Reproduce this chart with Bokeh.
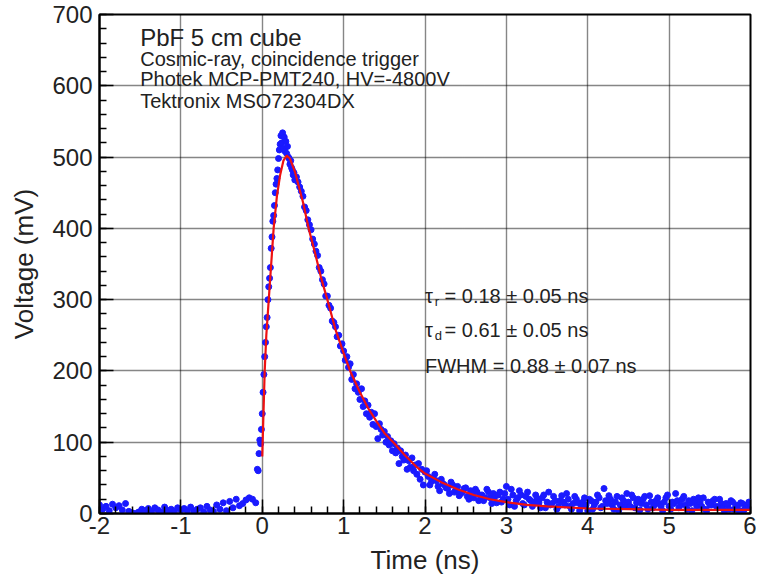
from bokeh.plotting import figure
from bokeh.models import SingleIntervalTicker, Label, PrintfTickFormatter
from bokeh.embed import file_html
from bokeh.resources import INLINE

# ---- data ----
base_t = [-2.00, -1.96, -1.92, -1.88, -1.84, -1.80, -1.76, -1.72, -1.68, -1.64, -1.60, -1.56,
          -1.52, -1.48, -1.44, -1.40, -1.36, -1.32, -1.28, -1.24, -1.20, -1.16, -1.12, -1.08,
          -1.04, -1.00, -0.96, -0.92, -0.88, -0.84, -0.80, -0.76, -0.72, -0.68, -0.64, -0.60,
          -0.56, -0.52, -0.48, -0.44, -0.40, -0.36, -0.32, -0.28, -0.24, -0.20, -0.16, -0.12, -0.08]
base_v = [12, 6, 10, 4, 13, 8, 11, 5, 14, 3, 1, 0,
          2, 6, 4, 7, 3, 8, 5, 2, 9, 4, 6, 3,
          8, 5, 7, 4, 9, 3, 6, 8, 2, 10, 5, 3,
          12, 6, 15, 4, 17, 8, 20, 11, 14, 19, 22, 20, 15]

rise_t = [-0.06, -0.05, -0.04, -0.03, -0.02, -0.01, 0.00, 0.01, 0.02, 0.03, 0.04, 0.05,
          0.06, 0.07, 0.08, 0.09, 0.10, 0.11, 0.12, 0.13, 0.14, 0.15, 0.16, 0.17, 0.18,
          0.19, 0.20, 0.21, 0.22, 0.23, 0.24, 0.25, 0.26, 0.27, 0.28, 0.29, 0.30, 0.31,
          0.32, 0.33, 0.34, 0.35, 0.36, 0.37, 0.38, 0.39, 0.40]
rise_v = [62, 60, 84, 103, 98, 118, 140, 170, 195, 220, 240, 262,
          275, 300, 318, 330, 345, 372, 388, 410, 418, 432, 450, 462, 470,
          482, 498, 510, 518, 530, 520, 534, 512, 528, 508, 522, 505, 515,
          500, 498, 490, 495, 485, 482, 475, 478, 468]

decay_t = [0.42, 0.44, 0.46, 0.48, 0.50, 0.52, 0.54, 0.56, 0.58, 0.60, 0.62, 0.64, 0.66, 0.68,
           0.70, 0.72, 0.74, 0.76, 0.78, 0.80, 0.82, 0.84, 0.86, 0.88, 0.90, 0.92, 0.94, 0.96,
           0.98, 1.00, 1.02, 1.04, 1.06, 1.08, 1.10, 1.12, 1.14, 1.16, 1.18, 1.20, 1.22, 1.24,
           1.26, 1.28, 1.30, 1.32, 1.34, 1.36, 1.38, 1.40, 1.42, 1.44, 1.46, 1.48, 1.50, 1.52,
           1.54, 1.56, 1.58, 1.60, 1.62, 1.64, 1.66, 1.68, 1.70, 1.72, 1.74, 1.76, 1.78, 1.80,
           1.82, 1.84, 1.86, 1.88, 1.90, 1.92, 1.94, 1.96, 1.98, 2.00]
decay_v = [472, 465, 458, 452, 445, 430, 425, 412, 405, 398, 385, 378, 368, 362,
           345, 340, 328, 322, 305, 305, 292, 288, 270, 268, 262, 248, 250, 235,
           238, 228, 215, 220, 205, 210, 188, 195, 175, 182, 170, 160, 175, 150,
           158, 140, 152, 135, 142, 125, 140, 122, 105, 126, 118, 110, 115, 100,
           108, 96, 102, 88, 98, 85, 92, 70, 88, 80, 75, 82, 62, 74,
           65, 78, 60, 68, 55, 70, 48, 62, 40, 58]

tail_t = [2.02, 2.04, 2.06, 2.08, 2.10, 2.12, 2.14, 2.16, 2.18, 2.20, 2.22, 2.24, 2.26, 2.28,
          2.30, 2.32, 2.34, 2.36, 2.38, 2.40, 2.42, 2.44, 2.46, 2.48, 2.50, 2.52, 2.54, 2.56,
          2.58, 2.60, 2.62, 2.64, 2.66, 2.68, 2.70, 2.72, 2.74, 2.76, 2.78, 2.80, 2.82, 2.84,
          2.86, 2.88, 2.90, 2.92, 2.94, 2.96, 2.98, 3.00, 3.02, 3.04, 3.06, 3.08, 3.10, 3.12,
          3.14, 3.16, 3.18, 3.20, 3.22, 3.24, 3.26, 3.28, 3.30, 3.32, 3.34, 3.36, 3.38, 3.40,
          3.42, 3.44, 3.46, 3.48, 3.50, 3.52, 3.54, 3.56, 3.58, 3.60, 3.62, 3.64, 3.66, 3.68,
          3.70, 3.72, 3.74, 3.76, 3.78, 3.80, 3.82, 3.84, 3.86, 3.88, 3.90, 3.92, 3.94, 3.96,
          3.98, 4.00, 4.02, 4.04, 4.06, 4.08, 4.10, 4.12, 4.14, 4.16, 4.18, 4.20, 4.22, 4.24,
          4.26, 4.28, 4.30, 4.32, 4.34, 4.36, 4.38, 4.40, 4.42, 4.44, 4.46, 4.48, 4.50, 4.52,
          4.54, 4.56, 4.58, 4.60, 4.62, 4.64, 4.66, 4.68, 4.70, 4.72, 4.74, 4.76, 4.78, 4.80,
          4.82, 4.84, 4.86, 4.88, 4.90, 4.92, 4.94, 4.96, 4.98, 5.00, 5.02, 5.04, 5.06, 5.08,
          5.10, 5.12, 5.14, 5.16, 5.18, 5.20, 5.22, 5.24, 5.26, 5.28, 5.30, 5.32, 5.34, 5.36,
          5.38, 5.40, 5.42, 5.44, 5.46, 5.48, 5.50, 5.52, 5.54, 5.56, 5.58, 5.60, 5.62, 5.64,
          5.66, 5.68, 5.70, 5.72, 5.74, 5.76, 5.78, 5.80, 5.82, 5.84, 5.86, 5.88, 5.90, 5.92,
          5.94, 5.96, 5.98, 6.00]
tail_v = [60, 52, 40, 45, 50, 55, 46, 38, 32, 48, 42, 40, 36, 35,
          28, 44, 40, 30, 33, 38, 25, 28, 30, 35, 36, 24, 20, 32,
          28, 22, 34, 30, 18, 25, 26, 18, 22, 34, 30, 22, 14, 28,
          24, 15, 26, 30, 16, 20, 28, 38, 20, 12, 34, 26, 10, 18,
          22, 32, 26, 14, 12, 24, 30, 20, 18, 10, 16, 26, 20, 15,
          8, 22, 26, 8, 16, 30, 12, 14, 24, 18, 6, 10, 18, 25,
          16, 12, 28, 20, 10, 6, 14, 24, 20, 15, 4, 10, 16, 22,
          12, 4, 20, 18, 6, 12, 16, 26, 22, 8, 10, 35, 18, 14,
          25, 20, 12, 6, 16, 24, 4, 12, 22, 18, 10, 28, 16, 10,
          26, 22, 8, 15, 20, 5, 14, 20, 24, 12, 6, 25, 16, 8,
          12, 18, 22, 14, 10, 4, 16, 22, 26, 10, 6, 16, 14, 28,
          18, 8, 12, 20, 24, 12, 6, 18, 14, 4, 20, 15, 10, 22,
          16, 10, 22, 6, 4, 16, 12, 12, 18, 20, 10, 8, 20, 14,
          8, 3, 14, 12, 6, 18, 16, 6, 12, 10, 4, 15, 14, 5,
          8, 12, 16, 8]

fit_t = [0.00, 0.01, 0.03, 0.05, 0.08, 0.11, 0.14, 0.18, 0.22, 0.26, 0.30, 0.34, 0.40,
         0.50, 0.57, 0.65, 0.72, 0.80, 0.90, 1.00, 1.08, 1.20, 1.30, 1.40, 1.50, 1.61,
         1.75, 1.90, 2.00, 2.20, 2.40, 2.60, 2.80, 3.00, 3.25, 3.50, 4.00, 4.50, 5.00,
         5.50, 6.00]
fit_v = [80, 120, 200, 250, 300, 350, 400, 445, 475, 495, 502, 498, 480,
         437, 400, 365, 332, 300, 258, 225, 200, 170, 148, 130, 113, 100,
         82, 65, 56, 44, 34, 26, 20, 16, 12, 10, 7, 6, 5,
         5, 5]

info_lines = ["Cosmic-ray, coincidence trigger", "Photek MCP-PMT240, HV=-4800V", "Tektronix MSO72304DX"]
fit_results = [("r", "= 0.18 \u00b1 0.05 ns"), ("d", "= 0.61 \u00b1 0.05 ns")]
fwhm_text = "FWHM = 0.88 \u00b1 0.07 ns"

FONT = "Liberation Sans"
TXT = "#222222"

p = figure(width=756, height=580, output_backend="svg", toolbar_location=None,
           x_range=(-2, 6), y_range=(0, 700),
           min_border_left=99, min_border_right=6, min_border_top=14, min_border_bottom=67)
p.background_fill_color = "white"
p.border_fill_color = "white"
p.outline_line_color = "black"
p.outline_line_width = 2

p.xaxis.ticker = SingleIntervalTicker(interval=1, num_minor_ticks=5)
p.yaxis.ticker = SingleIntervalTicker(interval=100, num_minor_ticks=5)
p.xaxis.formatter = PrintfTickFormatter(format="%d")
p.yaxis.formatter = PrintfTickFormatter(format="%d")

for ax in (p.xaxis[0], p.yaxis[0]):
    ax.axis_line_color = "black"
    ax.axis_line_width = 2
    ax.major_tick_in = 14
    ax.major_tick_out = 0
    ax.minor_tick_in = 7
    ax.minor_tick_out = 0
    ax.major_tick_line_color = "black"
    ax.minor_tick_line_color = "black"
    ax.major_tick_line_width = 1.5
    ax.minor_tick_line_width = 1.5
    ax.major_label_text_font = FONT
    ax.major_label_text_font_size = "24px"
    ax.major_label_text_color = TXT
    ax.axis_label_text_font = FONT
    ax.axis_label_text_font_size = "26px"
    ax.axis_label_text_font_style = "normal"
    ax.axis_label_text_color = TXT

p.xaxis.axis_label = "Time (ns)"
p.yaxis.axis_label = "Voltage (mV)"
p.xaxis.major_label_standoff = 3
p.yaxis.major_label_standoff = 7
p.xaxis.axis_label_standoff = 8
p.yaxis.axis_label_standoff = 10

for g in (p.xgrid[0], p.ygrid[0]):
    g.grid_line_color = "black"
    g.grid_line_dash = "1 1"
    g.grid_line_width = 1.4
    g.grid_line_alpha = 0.95

all_t = base_t + rise_t + decay_t + tail_t
all_v = base_v + rise_v + decay_v + tail_v
p.scatter(all_t, all_v, size=6, color="#1a1aff", line_color="#1a1aff")
p.line(fit_t, fit_v, line_color="#ee1111", line_width=2.2)

# top-left text block
p.add_layout(Label(x=-1.50, y=668, text="PbF 5 cm cube", text_font=FONT,
                   text_font_size="24px", text_baseline="middle", text_color=TXT))
for ypos, line in zip([637, 609, 579], info_lines):
    p.add_layout(Label(x=-1.50, y=ypos, text=line, text_font=FONT,
                       text_font_size="20px", text_baseline="middle", text_color=TXT))

# fit results
for ypos, (sub, rest) in zip([305, 257], fit_results):
    p.add_layout(Label(x=2.0, y=ypos, text="\u03c4", text_font=FONT,
                       text_font_size="20px", text_baseline="middle", text_color=TXT))
    p.add_layout(Label(x=2.12, y=ypos - 8, text=sub, text_font=FONT,
                       text_font_size="13px", text_baseline="middle", text_color=TXT))
    p.add_layout(Label(x=2.24, y=ypos, text=rest, text_font=FONT,
                       text_font_size="20px", text_baseline="middle", text_color=TXT))
p.add_layout(Label(x=2.0, y=207, text=fwhm_text, text_font=FONT,
                   text_font_size="20px", text_baseline="middle", text_color=TXT))

open("out.html", "w").write(file_html(p, INLINE))
